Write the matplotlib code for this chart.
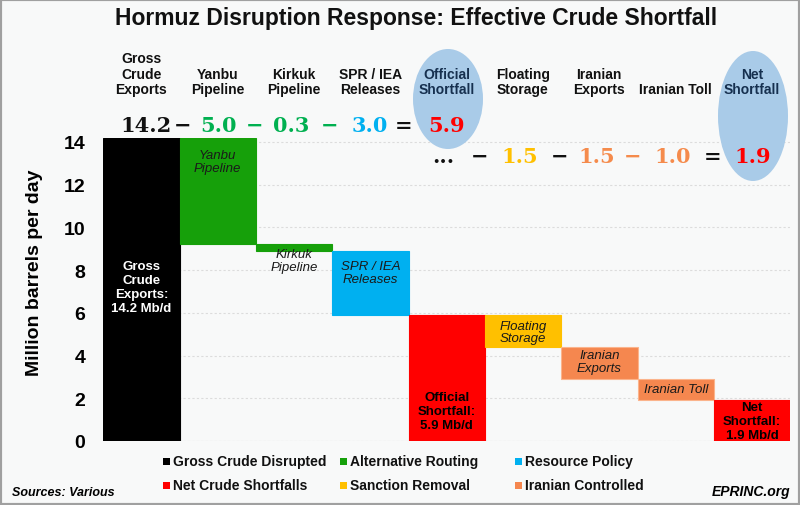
import matplotlib
matplotlib.use("Agg")
import matplotlib.pyplot as plt
from matplotlib.patches import Ellipse, Rectangle
import numpy as np

# ---- data ----
categories = ["Gross\nCrude\nExports", "Yanbu\nPipeline", "Kirkuk\nPipeline", "SPR / IEA\nReleases",
              "Official\nShortfall", "Floating\nStorage", "Iranian\nExports", "Iranian Toll", "Net\nShortfall"]
steps = [14.2, -5.0, -0.3, -3.0, None, -1.5, -1.5, -1.0, None]   # None = running total bar
bar_labels = ["Gross\nCrude\nExports:\n14.2 Mb/d", "Yanbu\nPipeline", "Kirkuk\nPipeline", "SPR / IEA\nReleases",
              "Official\nShortfall:\n5.9 Mb/d", "Floating\nStorage", "Iranian\nExports", "Iranian Toll",
              "Net\nShortfall:\n1.9 Mb/d"]
groups = ["Gross Crude Disrupted", "Alternative Routing", "Alternative Routing", "Resource Policy",
          "Net Crude Shortfalls", "Sanction Removal", "Iranian Controlled", "Iranian Controlled",
          "Net Crude Shortfalls"]
legend_order = ["Gross Crude Disrupted", "Alternative Routing", "Resource Policy",
                "Net Crude Shortfalls", "Sanction Removal", "Iranian Controlled"]
yticks = [0, 2, 4, 6, 8, 10, 12, 14]

group_colors = {"Gross Crude Disrupted": "#000000", "Alternative Routing": "#16a00a",
                "Resource Policy": "#00b0f0", "Net Crude Shortfalls": "#ff0000",
                "Sanction Removal": "#ffc000", "Iranian Controlled": "#f5874f"}
edge_colors = {"Iranian Controlled": "#fbb48c"}

# ---- compute waterfall ----
bottoms, heights = [], []
total = 0.0
for s in steps:
    if s is None:
        bottoms.append(0.0); heights.append(round(total, 2))
    elif s > 0:
        bottoms.append(total); heights.append(s); total += s
    else:
        total += s
        bottoms.append(round(total, 2)); heights.append(-s)

fig = plt.figure(figsize=(8, 5.06), dpi=100)
fig.patch.set_facecolor("#f8f9f9")
ax = fig.add_axes([0.129, 0.1265, 0.859, 0.5995])
ax.set_facecolor("#f8f9f9")

x = np.arange(len(categories))
for i in x:
    g = groups[i]
    ax.bar(i, heights[i], bottom=bottoms[i], width=1.0, color=group_colors[g],
           edgecolor=edge_colors.get(g, group_colors[g]), linewidth=0.8, zorder=3)

ax.set_xlim(-0.5, len(categories) - 0.5)
ax.set_ylim(0, 14.2)
ax.set_yticks(yticks)
ax.set_yticklabels([str(t) for t in yticks], fontsize=14, fontweight="bold", family="Liberation Sans")
ax.tick_params(axis="y", length=0, pad=13)
ax.set_xticks([])
for sp in ax.spines.values():
    sp.set_visible(False)
ax.yaxis.grid(True, color="#dcdcdc", linestyle=(0, (2, 2)), linewidth=0.8, zorder=0)
ax.axhline(0, color="#dcdcdc", linewidth=0.8, zorder=1)
ax.set_ylabel("Million barrels per day", fontsize=14, fontweight="bold", family="Liberation Sans")
ax.yaxis.set_label_coords((43 - 103) / 687, (442 - 273) / 303.3)

# labels inside bars
label_y = [7.2, 13.1, 8.47, 7.9, 1.4, 5.1, 3.7, 2.43, 0.95]
for i in x:
    g = groups[i]
    bold = g in ("Gross Crude Disrupted", "Net Crude Shortfalls")
    col = "white" if g == "Gross Crude Disrupted" else ("#000000" if bold else "#1a1a1a")
    ax.text(i, label_y[i], bar_labels[i], ha="center", va="center", fontsize=9.5,
            fontweight="bold" if bold else "normal", style="normal" if bold else "italic",
            color=col, family="Liberation Sans", linespacing=1.22 if bold else 1.1, zorder=4)

# ellipses (figure coordinates in pixels)
W, H = 800, 506
def fx(px): return px / W
def fy(py): return 1 - py / H
for cx, cy, w, h in [(448, 100, 70, 100), (753, 117, 70, 130)]:
    e = Ellipse((fx(cx), fy(cy)), w / W, h / H, transform=fig.transFigure,
                facecolor="#a9cbe8", edgecolor="none", zorder=0)
    fig.patches.append(e)

# headers
for i in x:
    cxp = 103 + (i + 0.5) * 76.33
    hl = groups[i] == "Net Crude Shortfalls"
    fig.text(fx(cxp), fy(97), categories[i], ha="center", va="bottom", fontsize=10,
             fontweight="bold", color="#16304f" if hl else "#111111", family="Liberation Sans",
             linespacing=1.12)

# equations
eq1 = [("14.2", 146, "#111111"), ("\u2212", 183, "#111111"), ("5.0", 218, "#00b050"),
       ("\u2212", 255, "#00b050"), ("0.3", 291, "#00b050"), ("\u2212", 330, "#00b050"),
       ("3.0", 370, "#00b0f0"), ("=", 404, "#111111"), ("5.9", 447, "#ff0000")]
eq2 = [("...", 443, "#111111"), ("\u2212", 480, "#111111"), ("1.5", 520, "#ffc000"),
       ("\u2212", 560, "#111111"), ("1.5", 597, "#f58b4c"), ("\u2212", 633, "#f58b4c"),
       ("1.0", 673, "#f58b4c"), ("=", 713, "#111111"), ("1.9", 753, "#ff0000")]
for row, yy in ((eq1, 126), (eq2, 157)):
    for s, xp, c in row:
        fig.text(fx(xp), fy(yy), s, ha="center", va="center", fontsize=15, fontweight="bold",
                 color=c, family="DejaVu Serif")

fig.text(fx(416), fy(19), "Hormuz Disruption Response: Effective Crude Shortfall", ha="center", va="center",
         fontsize=16.5, fontweight="bold", family="Liberation Sans", color="#111111")

# legend
leg_pos = [(166, 462), (343, 462), (518, 462), (166, 486), (343, 486), (518, 486)]
for name, (lx, ly) in zip(legend_order, leg_pos):
    fig.patches.append(Rectangle((fx(lx - 3.5), fy(ly + 3.5)), 7 / W, 7 / H, transform=fig.transFigure,
                                 facecolor=group_colors[name], edgecolor="none"))
    fig.text(fx(lx + 7), fy(ly), name, ha="left", va="center", fontsize=10, fontweight="bold",
             family="Liberation Sans", color="#111111")

fig.text(fx(12), fy(493), "Sources: Various", ha="left", va="center", fontsize=9, fontweight="bold",
         style="italic", family="Liberation Sans")
fig.text(fx(790), fy(492), "EPRINC.org", ha="right", va="center", fontsize=10, fontweight="bold",
         style="italic", family="Liberation Sans")

fig.patches.append(Rectangle((0, 0), 1, 1, transform=fig.transFigure, facecolor="none",
                             edgecolor="#a0a0a0", linewidth=3))

fig.savefig("out.png", dpi=100, facecolor=fig.get_facecolor())
